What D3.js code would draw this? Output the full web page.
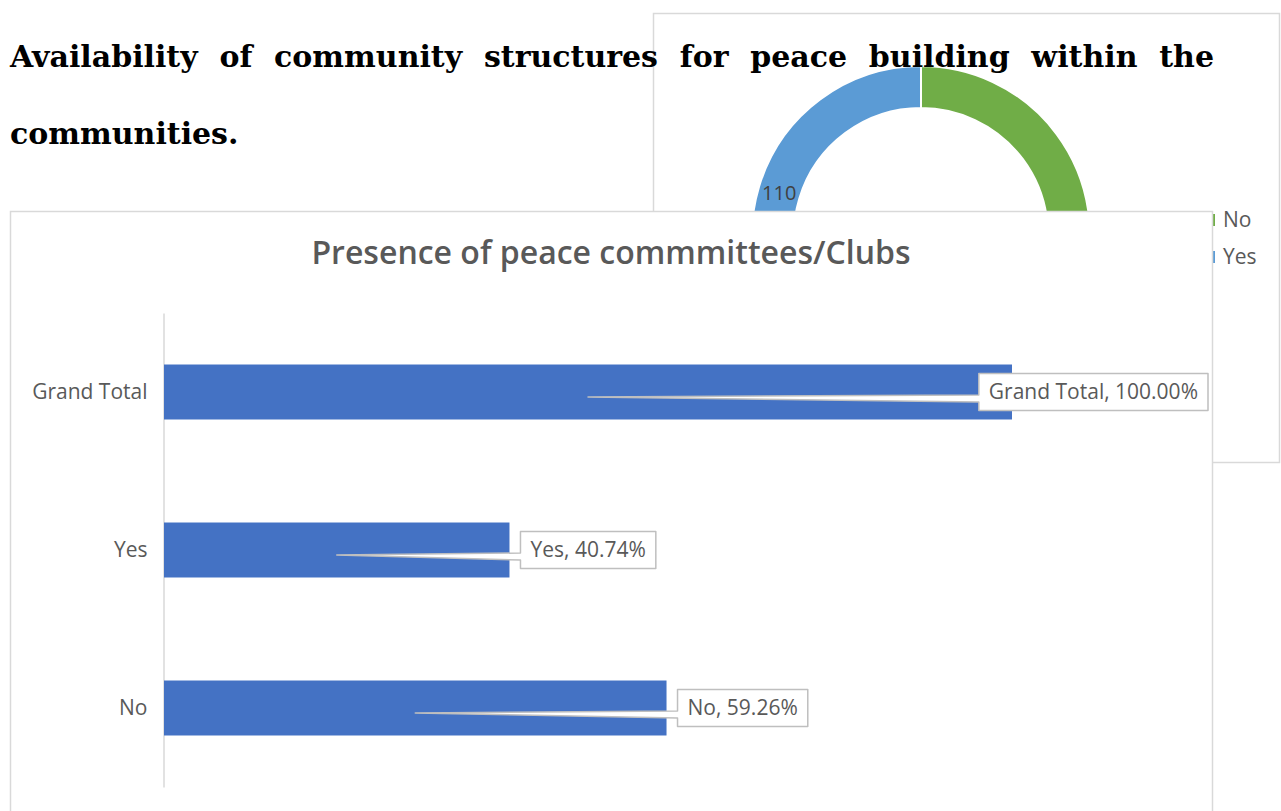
<!DOCTYPE html>
<html>
<head>
<meta charset="utf-8">
<script src="https://cdn.jsdelivr.net/npm/d3@7"></script>
<style>
  html, body { margin: 0; padding: 0; background: #fff; }
  svg { display: block; }
</style>
</head>
<body>
<svg id="page" width="1281" height="811"></svg>
<script>
// Bar chart: share of respondents reporting peace committees/clubs
const categories = ["Grand Total", "Yes", "No"];
const shares = [1.0, 0.4074, 0.5926];

// Donut chart behind it: raw counts
const donutCategories = ["No", "Yes"];
const donutCounts = [160, 110];
const donutColors = ["#70AD47", "#5B9BD5"];

const headingLine1 = "Availability of community structures for peace building within the";
const headingLine2 = "communities.";
const chartTitle = "Presence of peace commmittees/Clubs";

const svg = d3.select("#page");
const grey = "#595959";
const sans = "'Open Sans', sans-serif";

// ---- Heading paragraph (justified first line) ----
const headingFont = "'DejaVu Serif', serif";
function justifiedLine(text, x0, x1, baseline) {
  const words = text.split(" ");
  const g = svg.append("g");
  const nodes = words.map(w => g.append("text")
    .attr("y", baseline)
    .attr("font-family", headingFont)
    .attr("font-weight", "bold")
    .attr("font-size", 30)
    .attr("fill", "#000")
    .text(w));
  const widths = nodes.map(n => n.node().getComputedTextLength());
  const total = d3.sum(widths);
  const gap = (x1 - x0 - total) / (words.length - 1);
  let x = x0;
  nodes.forEach((n, i) => { n.attr("x", x); x += widths[i] + gap; });
}

// ---- Donut chart frame (drawn first, sits behind) ----
const donutFrame = svg.append("g");
donutFrame.append("rect")
  .attr("x", 653.5).attr("y", 13.5).attr("width", 626).attr("height", 449)
  .attr("fill", "#fff").attr("stroke", "#d9d9d9").attr("stroke-width", 1.5);

const pie = d3.pie().sort(null)(donutCounts);
const arc = d3.arc().innerRadius(127).outerRadius(169);
const labelArc = d3.arc().innerRadius(148).outerRadius(148);
const donut = donutFrame.append("g").attr("transform", "translate(921,235)");
donut.selectAll("path").data(pie).join("path")
  .attr("d", arc)
  .attr("fill", (d, i) => donutColors[i])
  .attr("stroke", "#fff").attr("stroke-width", 2);
donut.selectAll("text").data(pie).join("text")
  .attr("transform", d => `translate(${labelArc.centroid(d)})`)
  .attr("text-anchor", "middle").attr("dy", "0.35em")
  .attr("font-family", sans).attr("font-size", 20)
  .attr("fill", "#404040")
  .text(d => d.data);

const legend = donutFrame.append("g");
donutCategories.forEach((c, i) => {
  const ly = 220 + i * 37;
  legend.append("rect").attr("x", 1206).attr("y", ly - 6).attr("width", 9).attr("height", 12)
    .attr("fill", donutColors[i]);
  legend.append("text").attr("x", 1223).attr("y", ly).attr("dy", "0.35em")
    .attr("font-family", sans).attr("font-size", 21).attr("fill", grey)
    .text(c);
});

// Heading text above the donut frame
justifiedLine(headingLine1, 10, 1214, 67);
svg.append("text").attr("x", 10).attr("y", 144)
  .attr("font-family", headingFont).attr("font-weight", "bold").attr("font-size", 30)
  .attr("fill", "#000").text(headingLine2);

// ---- Bar chart frame ----
const chart = svg.append("g");
chart.append("rect")
  .attr("x", 10.5).attr("y", 211.5).attr("width", 1202).attr("height", 640)
  .attr("fill", "#fff").attr("stroke", "#d9d9d9").attr("stroke-width", 1.5);

chart.append("text")
  .attr("x", 611).attr("y", 264).attr("text-anchor", "middle")
  .attr("font-family", sans).attr("font-weight", 600)
  .attr("font-size", 32).attr("fill", grey)
  .text(chartTitle);

const x = d3.scaleLinear().domain([0, 1]).range([164, 1012]);
const y = d3.scaleBand().domain(categories).range([313, 787])
  .paddingInner(0.652).paddingOuter(0.326);

const yAxis = chart.append("g").attr("transform", "translate(163.5,0)")
  .call(d3.axisLeft(y).tickSize(0).tickSizeOuter(0).tickPadding(16));
yAxis.select(".domain").attr("stroke", "#d9d9d9").attr("stroke-width", 1.5);
yAxis.selectAll(".tick text")
  .attr("font-family", sans).attr("font-size", 21).attr("fill", grey);

chart.append("g").selectAll("rect").data(categories).join("rect")
  .attr("x", x(0)).attr("y", c => y(c))
  .attr("width", (c, i) => x(shares[i]) - x(0))
  .attr("height", y.bandwidth())
  .attr("fill", "#4472C4");

// Data-label callouts with a wedge pointing into each bar
const fmt = d3.format(".2%");
const plotRight = 1208;
const callouts = chart.append("g");
categories.forEach((c, i) => {
  const v = shares[i];
  const cy = y(c) + y.bandwidth() / 2;
  const g = callouts.append("g");
  const t = g.append("text")
    .attr("font-family", sans).attr("font-size", 21).attr("fill", grey)
    .attr("dy", "0.35em")
    .text(`${c}, ${fmt(v)}`);
  const tw = t.node().getComputedTextLength();
  const w = tw + 20, h = 37;
  const bx = Math.min(x(v) + 11, plotRight - w);
  const by = cy - h / 2;
  const tipX = x(v / 2), tipY = cy + 5;
  const path = d3.path();
  path.moveTo(bx, by);
  path.lineTo(bx + w, by);
  path.lineTo(bx + w, by + h);
  path.lineTo(bx, by + h);
  path.lineTo(bx, cy + 10);
  path.lineTo(tipX, tipY);
  path.lineTo(bx, cy + 3);
  path.closePath();
  g.insert("path", "text").attr("d", path.toString())
    .attr("fill", "#fff").attr("stroke", "#bfbfbf").attr("stroke-width", 1.5)
    .attr("stroke-linejoin", "round");
  t.attr("x", bx + 10).attr("y", cy);
});
</script>
</body>
</html>
